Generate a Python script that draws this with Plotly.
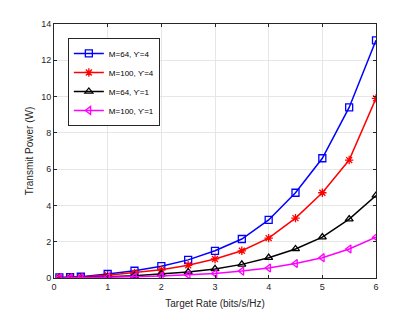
import plotly.graph_objects as go

rate = [0.1, 0.3, 0.5, 1, 1.5, 2, 2.5, 3, 3.5, 4, 4.5, 5, 5.5, 6]
p_m64_u4 = [0.03, 0.05, 0.07, 0.22, 0.40, 0.65, 1.00, 1.50, 2.15, 3.20, 4.70, 6.60, 9.40, 13.10]
p_m100_u4 = [0.02, 0.03, 0.05, 0.15, 0.28, 0.45, 0.70, 1.05, 1.50, 2.20, 3.30, 4.70, 6.50, 9.90]
p_m64_u1 = [0.01, 0.02, 0.03, 0.07, 0.13, 0.22, 0.33, 0.50, 0.75, 1.12, 1.60, 2.25, 3.25, 4.55]
p_m100_u1 = [0.005, 0.01, 0.02, 0.04, 0.07, 0.11, 0.17, 0.25, 0.38, 0.55, 0.80, 1.12, 1.60, 2.25]
names = ["M=64, ϒ=4", "M=100, ϒ=4", "M=64, ϒ=1", "M=100, ϒ=1"]
xticks = [0, 1, 2, 3, 4, 5, 6]
yticks = [0, 2, 4, 6, 8, 10, 12, 14]

series = [p_m64_u4, p_m100_u4, p_m64_u1, p_m100_u1]
colors = ["#0000ff", "#ff0000", "#000000", "#ff00ff"]
symbols = ["square-open", "asterisk-open", "triangle-up-open", "triangle-left-open"]

fig = go.Figure()
for y, n, c, s in zip(series, names, colors, symbols):
    fig.add_trace(go.Scatter(
        x=rate, y=y, name=n, mode="lines+markers",
        line=dict(color=c, width=1.5),
        marker=dict(symbol=s, size=7, color=c, line=dict(color=c, width=1.3)),
    ))

axis_common = dict(
    showline=True, linecolor="#262626", linewidth=1, mirror="ticks",
    ticks="inside", ticklen=3, tickcolor="#262626",
    showgrid=True, gridcolor="#e6e6e6", gridwidth=1, zeroline=False,
    automargin=False,
    tickfont=dict(family="Liberation Sans, Arial", size=9, color="#262626"),
)
fig.update_xaxes(range=[0, 6], tickvals=xticks,
                 title=dict(text="Target Rate (bits/s/Hz)", font=dict(family="Liberation Sans, Arial", size=10, color="#262626"), standoff=9),
                 **axis_common)
fig.update_yaxes(range=[0, 14], tickvals=yticks,
                 title=dict(text="Transmit Power (W)", font=dict(family="Liberation Sans, Arial", size=10, color="#262626"), standoff=5),
                 **axis_common)

fig.update_layout(
    width=407, height=304,
    margin=dict(l=46, r=39, t=16, b=34, autoexpand=False),
    paper_bgcolor="white", plot_bgcolor="white",
    showlegend=True,
    legend=dict(x=0.043, y=0.945, xanchor="left", yanchor="top",
                bgcolor="white", bordercolor="#262626", borderwidth=1,
                font=dict(family="Liberation Sans, Arial", size=8, color="#000000"),
                tracegroupgap=0, itemwidth=30),
)

fig.write_html("out.html")
